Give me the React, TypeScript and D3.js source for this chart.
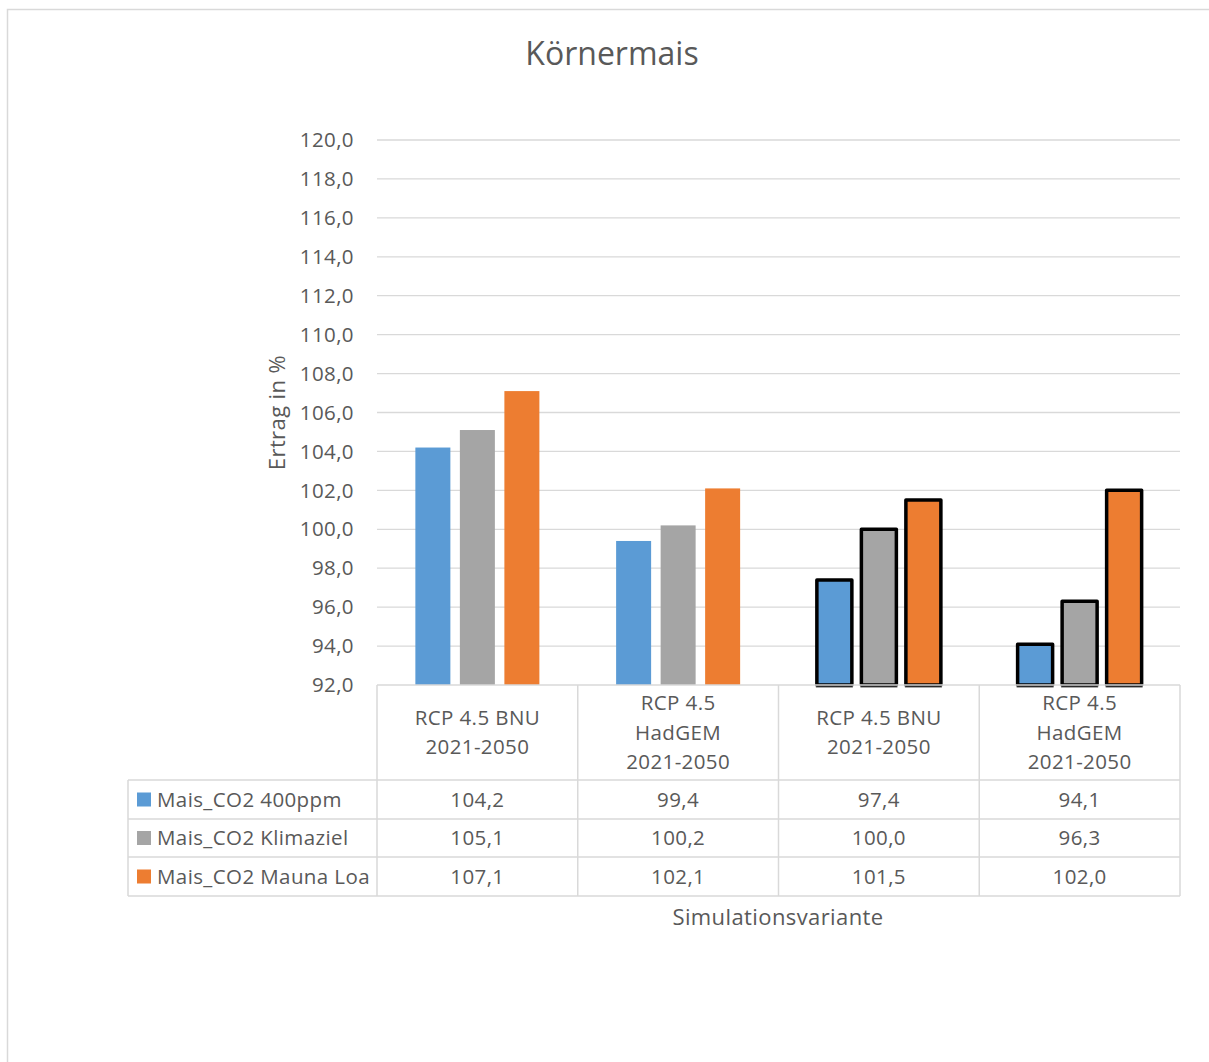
import React from "react";
import * as d3 from "d3";

// Simulation variants (x categories), each label split into lines
const categories = ["BNU-1", "HadGEM-1", "BNU-2", "HadGEM-2"];
const categoryLines = [
  ["RCP 4.5 BNU", "2021-2050"],
  ["RCP 4.5", "HadGEM", "2021-2050"],
  ["RCP 4.5 BNU", "2021-2050"],
  ["RCP 4.5", "HadGEM", "2021-2050"],
];

// Series and their yields in %
const seriesNames = ["Mais_CO2 400ppm", "Mais_CO2 Klimaziel", "Mais_CO2 Mauna Loa"];
const seriesColors = ["#5B9BD5", "#A5A5A5", "#ED7D31"];
const values400ppm = [104.2, 99.4, 97.4, 94.1];
const valuesKlimaziel = [105.1, 100.2, 100.0, 96.3];
const valuesMaunaLoa = [107.1, 102.1, 101.5, 102.0];
const seriesValues = [values400ppm, valuesKlimaziel, valuesMaunaLoa];

// Categories whose bars carry a dark outline
const outlinedCategories = [false, false, true, true];

const yTicks = [92, 94, 96, 98, 100, 102, 104, 106, 108, 110, 112, 114, 116, 118, 120];

const W = 1209;
const H = 1062;
const FONT = "'Open Sans', sans-serif";
const TEXT = "#595959";
const GRID = "#D9D9D9";
const FS = 20.5;
const LS = 0.4;
const AXIS_TITLE_FS = 22;

export default function App() {
  const plotLeft = 377;
  const plotRight = 1180;
  const plotTop = 140;
  const plotBottom = 685;
  const legendLeft = 128;

  const y = d3.scaleLinear().domain([92, 120]).range([plotBottom, plotTop]);
  const x = d3.scaleBand<string>().domain(categories).range([plotLeft, plotRight]);
  const inner = d3
    .scaleBand<number>()
    .domain(d3.range(seriesNames.length))
    .range([0, x.bandwidth()])
    .paddingInner(0.2135)
    .paddingOuter(0.862);

  const fmt = (v: number) => v.toFixed(1).replace(".", ",");

  const headerBottom = 780;
  const rowLines = [headerBottom, 819, 857, 896];

  return (
    <div style={{ position: "absolute", left: 0, top: 0 }}>
      <svg width={W} height={H} style={{ display: "block", fontFamily: FONT }}>
        <rect x={0} y={0} width={W} height={H} fill="#fff" />
        {/* chart frame */}
        <rect x={7.5} y={9.5} width={W + 20} height={H + 20} fill="none" stroke={GRID} strokeWidth={1.5} />

        {/* title */}
        <text x={612} y={65} textAnchor="middle" fontSize={32} fill={TEXT}>
          Körnermais
        </text>

        {/* gridlines and y tick labels */}
        {yTicks.map((t) => (
          <g key={t}>
            {t !== 92 && (
              <line x1={plotLeft} x2={plotRight} y1={y(t)} y2={y(t)} stroke={GRID} strokeWidth={1.3} />
            )}
            <text
              x={354}
              y={y(t)}
              dy="0.35em"
              textAnchor="end"
              fontSize={FS}
              letterSpacing={LS}
              fill={TEXT}
            >
              {fmt(t)}
            </text>
          </g>
        ))}

        {/* y axis title */}
        <text
          transform={`translate(284.5,${(plotTop + plotBottom) / 2}) rotate(-90)`}
          textAnchor="middle"
          fontSize={AXIS_TITLE_FS}
          letterSpacing={LS}
          fill={TEXT}
        >
          Ertrag in %
        </text>

        {/* bars */}
        {categories.map((c, ci) => (
          <g key={c} transform={`translate(${x(c)},0)`}>
            {seriesValues.map((vals, si) => {
              const v = vals[ci];
              const bx = inner(si)!;
              const bw = inner.bandwidth();
              const outlined = outlinedCategories[ci];
              return (
                <g key={si}>
                  {outlined && (
                    <line
                      x1={bx - 1}
                      x2={bx + bw + 1}
                      y1={plotBottom + 2}
                      y2={plotBottom + 2}
                      stroke="#8c8c8c"
                      strokeWidth={1.5}
                    />
                  )}
                  <rect
                    x={bx}
                    y={y(v)}
                    width={bw}
                    height={plotBottom - y(v)}
                    fill={seriesColors[si]}
                    stroke={outlined ? "#000" : "none"}
                    strokeWidth={outlined ? 3.5 : 0}
                    strokeLinejoin="round"
                  />
                </g>
              );
            })}
          </g>
        ))}

        {/* data table grid */}
        <g stroke={GRID} strokeWidth={1.5}>
          <line x1={plotLeft} x2={plotRight} y1={plotBottom} y2={plotBottom} />
          {rowLines.map((ry) => (
            <line key={ry} x1={legendLeft} x2={plotRight} y1={ry} y2={ry} />
          ))}
          {categories.map((c) => (
            <line key={c} x1={x(c)!} x2={x(c)!} y1={plotBottom} y2={rowLines[3]} />
          ))}
          <line x1={plotRight} x2={plotRight} y1={plotBottom} y2={rowLines[3]} />
          <line x1={legendLeft} x2={legendLeft} y1={headerBottom} y2={rowLines[3]} />
        </g>

        {/* category header labels */}
        {categories.map((c, ci) => {
          const lines = categoryLines[ci];
          const cx = x(c)! + x.bandwidth() / 2;
          const lh = 29.5;
          const mid = (plotBottom + headerBottom) / 2;
          const start = mid - ((lines.length - 1) * lh) / 2;
          return (
            <text key={c} x={cx} textAnchor="middle" fontSize={FS} letterSpacing={LS} fill={TEXT}>
              {lines.map((l, li) => (
                <tspan key={li} x={cx} y={start + li * lh} dy="0.35em">
                  {l}
                </tspan>
              ))}
            </text>
          );
        })}

        {/* table rows: legend key + values */}
        {seriesNames.map((name, si) => {
          const cy = (rowLines[si] + rowLines[si + 1]) / 2;
          return (
            <g key={name}>
              <rect x={137} y={cy - 7} width={14} height={14} fill={seriesColors[si]} />
              <text x={157} y={cy} dy="0.35em" fontSize={FS} letterSpacing={LS} fill={TEXT}>
                {name}
              </text>
              {categories.map((c, ci) => (
                <text
                  key={c}
                  x={x(c)! + x.bandwidth() / 2}
                  y={cy}
                  dy="0.35em"
                  textAnchor="middle"
                  fontSize={FS}
                  letterSpacing={LS}
                  fill={TEXT}
                >
                  {fmt(seriesValues[si][ci])}
                </text>
              ))}
            </g>
          );
        })}

        {/* x axis title */}
        <text
          x={778}
          y={917}
          dy="0.35em"
          textAnchor="middle"
          fontSize={AXIS_TITLE_FS}
          letterSpacing={LS}
          fill={TEXT}
        >
          Simulationsvariante
        </text>
      </svg>
    </div>
  );
}
